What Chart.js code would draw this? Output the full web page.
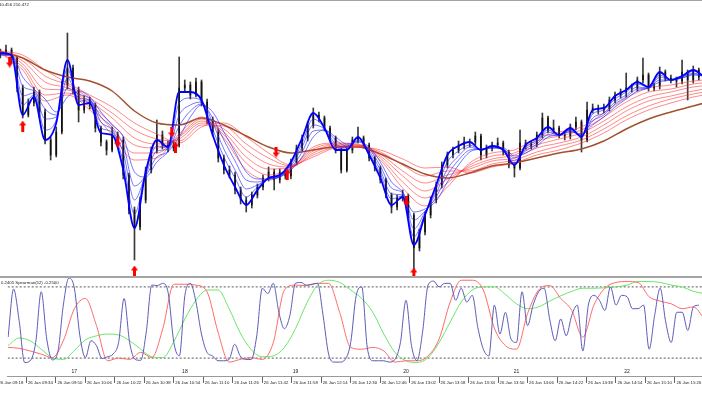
<!DOCTYPE html>
<html><head><meta charset="utf-8">
<script src="https://cdn.jsdelivr.net/npm/chart.js@4.4.1/dist/chart.umd.min.js"></script>
<style>
html,body{margin:0;padding:0;background:#fff;}
#wrap{position:relative;width:702px;height:395px;overflow:hidden;background:#fff;}
.box{position:absolute;left:0;}
.sep{position:absolute;left:0;width:702px;background:#a4a4a4;}
.lbl{position:absolute;font-family:"Liberation Sans",Arial,sans-serif;font-size:4.3px;line-height:5px;color:#222;white-space:nowrap;}
</style></head><body>
<div id="wrap">
  <div class="box" style="top:0;width:702px;height:276px"><canvas id="cA" width="702" height="276"></canvas></div>
  <div class="box" style="top:278px;width:702px;height:117px"><canvas id="cB" width="702" height="117"></canvas></div>
  <div class="sep" style="top:0;height:1px"></div>
  <div class="sep" style="top:276px;height:2px"></div>
  <div class="lbl" style="left:-1px;top:2px">10.456 210.472</div>
  <div class="lbl" style="left:1px;top:280px">0.2405 Spearman(52) -0.2500</div>
</div>
<script>
// ---------- data (price in chart points, oscillator in -1..1) ----------
const START = '09:24';          // first bar time, 3-minute bars
const open  = [222,224,227,219,189,162,174,185,165,137,122,145,192,209,187,167,177,172,149,135,127,142,137,102,67,50,77,107,127,142,132,129,132,189,192,182,195,175,157,145,119,107,102,87,77,72,82,90,99,105,97,105,101,115,129,139,152,162,159,149,139,127,107,127,137,139,132,119,109,97,82,70,79,81,62,29,45,62,77,92,112,122,127,132,135,135,141,122,129,132,134,125,112,109,134,131,133,142,159,147,149,142,141,150,155,137,167,169,167,169,177,182,185,189,189,197,202,189,191,205,199,197,196,205,197,207];
const high  = [228,232,229,221,192,178,190,187,168,140,150,196,244,212,190,181,180,174,151,137,150,145,140,104,70,80,110,130,157,146,136,136,220,197,195,199,197,178,160,148,122,111,105,90,80,85,93,102,110,108,108,108,118,132,142,155,169,165,161,151,141,129,130,140,150,141,134,121,111,99,84,82,87,83,64,48,65,80,95,115,125,130,136,140,138,145,143,132,135,139,136,127,114,147,137,136,145,164,161,157,151,145,153,160,157,175,173,172,173,180,185,188,204,193,200,219,204,194,210,207,202,200,217,207,211,209];
const low   = [219,222,214,185,159,160,171,160,133,117,120,143,188,183,155,164,168,145,131,122,125,133,98,63,17,47,74,104,124,128,125,126,130,185,178,180,171,153,141,115,103,99,83,73,65,69,79,87,96,87,94,98,98,112,126,136,149,155,146,136,124,104,105,124,134,129,116,106,94,79,64,67,76,59,4,26,42,59,74,89,109,119,124,128,130,132,117,119,126,129,122,109,100,107,128,128,130,139,144,144,139,137,138,147,125,135,164,163,164,166,174,179,180,185,186,194,186,186,188,196,194,190,193,177,194,197];
const close = [224,227,219,189,162,174,185,165,137,122,145,192,209,187,167,177,172,149,135,127,142,137,102,67,50,77,107,127,142,132,129,132,189,192,182,195,175,157,145,119,107,102,87,77,72,82,90,99,105,97,105,101,115,129,139,152,162,159,149,139,127,107,127,137,139,132,119,109,97,82,70,79,81,62,29,45,62,77,92,112,122,127,132,135,135,141,122,129,132,134,125,112,109,134,131,133,142,159,147,149,142,141,150,155,137,167,169,167,169,177,182,185,189,189,197,202,189,191,205,199,197,196,205,197,207,200];

// short moving averages, sampled every 6 minutes
const blueFast = [224,222,162,180,137,154,217,172,174,144,142,107,49,105,137,130,185,185,177,142,112,90,72,87,99,102,115,139,164,149,127,127,140,122,99,72,80,32,62,92,122,131,135,127,131,127,112,132,139,150,142,149,140,167,169,181,187,195,190,205,197,201,207,200];
const blue2 = [224,222,172,182,147,157,208,176,176,149,145,115,63,104,131,129,174,179,176,148,120,99,80,90,99,101,113,134,158,149,130,128,139,124,103,78,81,40,63,88,115,126,132,127,130,127,114,130,137,147,142,148,141,163,167,178,185,193,190,202,197,200,206,200];
const blue3 = [223,222,181,184,158,160,199,179,177,155,147,124,77,102,126,128,162,172,175,154,128,107,88,92,98,101,111,130,152,148,133,130,137,126,107,83,82,48,65,84,108,121,130,127,130,128,116,128,135,145,142,147,141,159,164,175,182,190,189,200,197,200,204,200];
const blue4 = [222,222,191,186,168,162,189,183,178,160,150,132,91,101,120,126,151,166,173,159,137,116,97,95,98,100,109,125,146,147,137,131,136,128,111,89,84,57,66,80,102,117,127,128,129,128,119,126,133,142,142,146,142,156,162,173,180,188,189,197,197,199,203,201];
const blue5 = [222,222,200,188,178,165,180,186,180,165,152,140,105,100,115,125,140,160,172,165,145,125,105,98,98,100,107,120,140,147,140,133,135,130,115,95,85,65,68,76,95,112,125,128,129,129,121,124,131,140,142,145,143,152,160,170,178,186,189,195,197,199,202,201];

// long moving averages, sampled every 12 minutes
const red1 = [224,207,176,182,167,142,117,119,143,160,139,107,97,108,130,134,133,117,89,71,90,114,124,127,139,145,150,164,179,189,192,196,198];
const red2 = [224,210,182,184,170,148,124,124,141,158,142,114,102,109,128,133,132,119,95,79,94,112,121,124,136,141,147,160,175,185,188,193,195];
const red3 = [225,213,188,187,173,153,132,129,140,156,145,120,108,110,126,132,132,121,101,86,98,110,118,122,132,138,144,156,170,180,185,190,192];
const red4 = [225,216,195,189,176,159,139,133,138,154,148,127,113,110,124,131,131,123,106,94,102,108,116,119,129,134,140,152,166,176,181,186,190];
const red5 = [226,219,201,192,179,164,147,138,136,152,151,133,119,111,122,130,131,125,112,101,106,106,113,117,125,131,137,148,161,171,178,183,187];
const red6 = [226,222,207,194,182,170,154,143,134,150,154,140,124,112,120,129,130,127,118,109,110,104,110,114,122,127,134,144,157,167,174,180,184];
const brown = [225,219,207,200,196,186,166,154,152,159,152,141,130,124,127,130,130,123,113,103,99,104,111,114,119,124,128,136,148,158,165,171,177];

// signal arrows
const downArrowTimes = ['09:29','10:27','10:56','11:52','13:02'];
const downArrowPrices = [215,135,145,125,76];
const upArrowTimes = ['09:36','10:36','10:58','11:58','13:06'];
const upArrowPrices = [151,6,130,103,4];

// oscillator: blue every 3 min, red & green every 6 min
const oscBlue = [-0.33,0.75,0.05,-0.90,-0.86,-0.45,0.69,-0.37,-0.84,-0.67,0.39,1.0,0.77,-0.30,-0.79,-0.41,-0.52,-0.81,-0.77,-0.71,-0.45,0.54,-0.45,-0.83,-0.85,-0.22,0.84,0.83,0.88,0.65,-0.45,-0.75,0.61,0.88,0.46,-0.26,-0.67,-0.75,-0.86,-0.86,-0.83,-0.49,-0.75,-0.83,-0.83,-0.30,0.77,0.65,0.88,0.23,-0.14,0.16,0.88,0.90,0.84,0.86,0.88,0.16,-0.71,-0.89,-0.89,-0.83,-0.45,0.61,0.80,-0.56,-0.86,-0.86,-0.86,-0.89,-0.83,-0.45,0.50,-0.52,-0.86,-0.22,0.84,0.93,0.80,0.88,0.88,0.50,0.77,0.46,0.61,-0.11,-0.60,-0.75,0.39,-0.26,0.23,-0.37,-0.45,0.69,-0.07,0.39,0.69,0.77,0.08,-0.41,0.08,-0.30,0.16,0.39,-0.64,0.39,0.61,0.50,0.27,0.80,0.39,0.61,0.58,0.31,0.31,0.39,-0.60,0.16,0.77,0.01,-0.45,0.23,0.23,-0.18,0.35,0.39];
const oscRed = [-0.56,-0.58,-0.64,-0.71,-0.79,-0.41,0.31,0.54,-0.07,-0.86,-0.80,-0.83,-0.67,-0.79,-0.14,0.86,0.86,0.84,0.69,-0.22,-0.89,-0.83,-0.79,-0.83,-0.45,0.73,0.84,0.83,0.88,0.88,0.23,-0.56,-0.60,-0.56,-0.64,-0.89,-0.86,-0.86,-0.75,-0.37,0.46,0.95,0.95,0.73,-0.13,-0.52,-0.60,0.20,0.73,0.83,0.54,0.27,-0.33,0.39,0.77,0.90,0.92,0.90,0.58,0.48,0.42,0.31,0.35,0.08];
const oscGreen = [-0.52,-0.35,-0.41,-0.60,-0.79,-0.83,-0.63,-0.39,-0.30,-0.26,-0.28,-0.41,-0.60,-0.77,-0.79,-0.43,0.08,0.50,0.73,0.73,0.31,-0.23,-0.61,-0.77,-0.75,-0.56,-0.14,0.42,0.84,0.95,0.90,0.73,0.54,0.23,-0.26,-0.67,-0.86,-0.90,-0.79,-0.45,0.01,0.46,0.73,0.80,0.80,0.63,0.42,0.31,0.35,0.48,0.60,0.70,0.77,0.77,0.78,0.80,0.84,0.92,0.92,0.90,0.84,0.80,0.70,0.65];
const levels = [0.8, -0.8];

// axis labels
const hourTickTimes = ['10:00','11:00','12:00','13:00','14:00','15:00'];
const hourTickLabels = ['17','18','19','20','21','22'];
const timeTickTimes = ['09:18','09:34','09:50','10:06','10:22','10:38','10:54','11:10','11:26','11:42','11:58','12:14','12:30','12:46','13:02','13:18','13:34','13:50','14:06','14:22','14:38','14:54','15:10','15:26'];
const timeTickLabels = ['26 Jan 09:18','26 Jan 09:34','26 Jan 09:50','26 Jan 10:06','26 Jan 10:22','26 Jan 10:38','26 Jan 10:54','26 Jan 11:10','26 Jan 11:26','26 Jan 11:42','26 Jan 11:58','26 Jan 12:14','26 Jan 12:30','26 Jan 12:46','26 Jan 13:02','26 Jan 13:18','26 Jan 13:34','26 Jan 13:50','26 Jan 14:06','26 Jan 14:22','26 Jan 14:38','26 Jan 14:54','26 Jan 15:10','26 Jan 15:26'];

// ---------- build ----------
const toMin = s => { const p = s.split(':').map(Number); return p[0]*60 + p[1]; };
const t0 = toMin(START);
const X_MIN = 563.8, X_MAX = 940.7;
const FONT = '"Liberation Sans",Arial,sans-serif';
const series = (vals, step) => vals.map((v, i) => ({x: t0 + step*i, y: v}));
const line = (data, color, width, order) => ({type:'line', data, borderColor:color, borderWidth:width,
  pointRadius:0, fill:false, cubicInterpolationMode:'monotone', order});

function arrowImg(up){
  const c = document.createElement('canvas'); c.width = 7; c.height = 11;
  const g = c.getContext('2d'); g.fillStyle = '#ff0000'; g.beginPath();
  if (up) { g.moveTo(3.5,0); g.lineTo(7,5); g.lineTo(5,5); g.lineTo(5,11); g.lineTo(2,11); g.lineTo(2,5); g.lineTo(0,5); }
  else { g.moveTo(2,0); g.lineTo(5,0); g.lineTo(5,6); g.lineTo(7,6); g.lineTo(3.5,11); g.lineTo(0,6); g.lineTo(2,6); }
  g.closePath(); g.fill(); return c;
}

const wickData = close.map((c,i) => ({x: t0 + 3*i, y: [low[i], high[i]]}));
const bodyData = close.map((c,i) => ({x: t0 + 3*i, y: [Math.min(open[i], c), Math.max(open[i], c)]}));

new Chart(document.getElementById('cA'), {
  type: 'bar',
  data: { datasets: [
    {type:'scatter', data: downArrowTimes.map((t,i)=>({x:toMin(t), y:downArrowPrices[i]})), pointStyle: arrowImg(false), pointRadius:5, order:0},
    {type:'scatter', data: upArrowTimes.map((t,i)=>({x:toMin(t), y:upArrowPrices[i]})), pointStyle: arrowImg(true), pointRadius:5, order:0},
    line(series(blueFast,6), '#0000ff', 1.8, 1),
    line(series(blue2,6), 'rgba(30,30,255,0.6)', 1, 2),
    line(series(blue3,6), 'rgba(30,30,255,0.6)', 1, 2),
    line(series(blue4,6), 'rgba(30,30,255,0.6)', 1, 2),
    line(series(blue5,6), 'rgba(30,30,255,0.6)', 1, 2),
    line(series(red1,12), 'rgba(255,40,40,0.55)', 1, 3),
    line(series(red2,12), 'rgba(255,40,40,0.55)', 1, 3),
    line(series(red3,12), 'rgba(255,40,40,0.55)', 1, 3),
    line(series(red4,12), 'rgba(255,40,40,0.55)', 1, 3),
    line(series(red5,12), 'rgba(255,40,40,0.55)', 1, 3),
    line(series(red6,12), 'rgba(255,40,40,0.55)', 1, 3),
    line(series(brown,12), '#a0522d', 1.5, 4),
    {type:'bar', data: bodyData, backgroundColor:'#111', borderWidth:0, grouped:false, barThickness:1, maxBarThickness:4, order:5},
    {type:'bar', data: wickData, backgroundColor:'#3a3a3a', borderWidth:0, grouped:false, barThickness:1, maxBarThickness:1, order:6}
  ]},
  options: {
    responsive:false, animation:false, events:[],
    layout:{padding:0, autoPadding:false},
    plugins:{legend:{display:false}, tooltip:{enabled:false}},
    scales:{
      x:{type:'linear', min:X_MIN, max:X_MAX, display:false, offset:false},
      y:{type:'linear', min:1, max:277, display:false}
    }
  }
});

new Chart(document.getElementById('cB'), {
  type: 'line',
  data: { datasets: [
    line(series(oscBlue,3), '#5c5cb8', 1, 1),
    line(series(oscRed,6), '#ff6a6a', 1, 2),
    line(series(oscGreen,6), '#6ae66a', 1, 3),
    ...levels.map(v => ({type:'line', data:[{x:X_MIN,y:v},{x:X_MAX,y:v}], borderColor:'#555', borderWidth:1, borderDash:[2,2], pointRadius:0, order:4}))
  ]},
  options: {
    responsive:false, animation:false, events:[],
    layout:{padding:0, autoPadding:false},
    plugins:{legend:{display:false}, tooltip:{enabled:false}},
    scales:{
      x:{type:'linear', position:'bottom', weight:0, min:X_MIN, max:X_MAX, offset:false,
         grid:{display:false, drawTicks:false, tickLength:0}, border:{display:false},
         afterBuildTicks: s => { s.ticks = hourTickTimes.map(t => ({value: toMin(t)})); },
         afterFit: s => { s.height = 9; },
         ticks:{autoSkip:false, maxRotation:0, minRotation:0, padding:1.5, color:'#222',
                font:{family:FONT, size:5}, callback:(v,i) => hourTickLabels[i]}},
      xt:{type:'linear', axis:'x', position:'bottom', weight:1, min:X_MIN, max:X_MAX, offset:false,
         grid:{display:true, drawOnChartArea:false, drawTicks:true, tickLength:7, color:'#666', lineWidth:1},
         border:{display:true, color:'#9a9a9a', width:1},
         afterBuildTicks: s => { s.ticks = timeTickTimes.map(t => ({value: toMin(t)})); },
         afterFit: s => { s.height = 19; },
         ticks:{autoSkip:false, maxRotation:0, minRotation:0, align:'start', labelOffset:1.5, padding:-3, color:'#222',
                font:{family:FONT, size:4.3}, callback:(v,i) => timeTickLabels[i]}},
      y:{type:'linear', min:-1, max:1, display:false}
    }
  }
});
</script>
</body></html>
